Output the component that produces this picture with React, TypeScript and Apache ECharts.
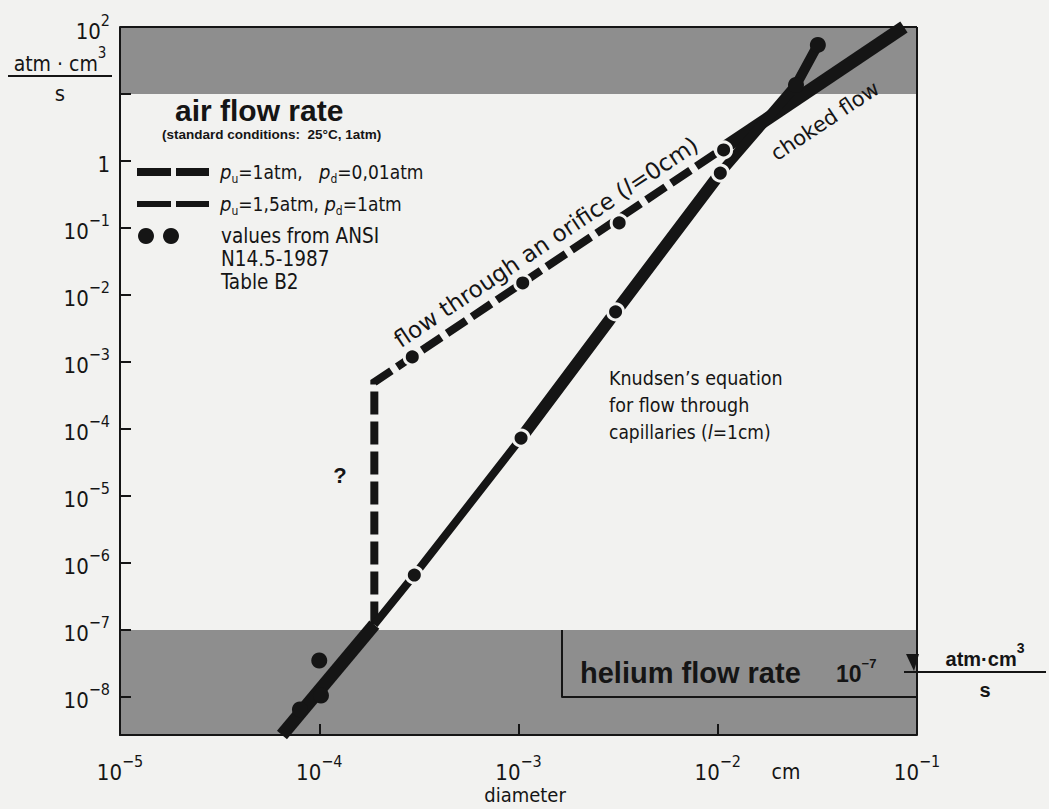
import React, { useEffect, useRef } from 'react';
import * as echarts from 'echarts';

// ---------- data (real values, plotted on log10 value axes) ----------
const xTickExponents = [-5, -4, -3, -2, -1];
const yTickExponents = [-8, -7, -6, -5, -4, -3, -2, -1, 0, 1, 2];
const xMinValue = 1e-5;
const xMaxValue = 1e-1;
const yMinValue = 2.7e-9;
const yMaxValue = 100;

// flow through an orifice (l = 0 cm), pu = 1 atm, pd = 0.01 atm
const orificeD = [1.89e-4, 1.89e-4, 1.05e-2];
const orificeQ = [1.2e-7, 5.0e-4, 1.5];
// choked flow continuation
const chokedD = [1.05e-2, 8.6e-2];
const chokedQ = [1.5, 100];
// Knudsen's equation (l = 1 cm)
const knudsenLowD = [6.5e-5, 1.89e-4];
const knudsenLowQ = [2.7e-9, 1.2e-7];
const knudsenMidD = [1.89e-4, 3.0e-4, 1.03e-3];
const knudsenMidQ = [1.2e-7, 6.6e-7, 7.3e-5];
const knudsenUpD = [1.03e-3, 3.07e-3, 1.03e-2];
const knudsenUpQ = [7.3e-5, 5.6e-3, 0.66];
const knudsenTopD = [1.03e-2, 2.47e-2, 3.18e-2];
const knudsenTopQ = [0.66, 13.6, 54];
// values from ANSI N14.5-1987 Table B2
const ansiD = [2.93e-4, 1.05e-3, 3.2e-3, 1.07e-2, 3.0e-4, 1.03e-3, 3.07e-3, 1.03e-2, 2.47e-2, 3.18e-2, 1.0e-4, 1.02e-4, 8.0e-5];
const ansiQ = [1.19e-3, 1.51e-2, 0.119, 1.46, 6.6e-7, 7.3e-5, 5.6e-3, 0.66, 13.6, 54, 3.5e-8, 1.05e-8, 6.5e-9];
// shaded ranges
const airBandQ = [10, 100];
const heliumBandQ = [yMinValue, 1e-7];
const heliumBoxD = [1.64e-3, 1e-1];
const heliumBoxQ = [1e-8, 1e-7];

// ---------- helpers ----------
const lg = (v: number) => Math.log10(v);
const pts = (d: number[], q: number[]) => d.map((x, i) => [lg(x), lg(q[i])]);

const DIN = '"DejaVu Sans Condensed", "DejaVu Sans", sans-serif';
const HELV = '"Liberation Sans", Arial, sans-serif';
const INK = '#151515';
const BAND = '#8e8e8e';
const PAPER = '#f2f2f0';

const expLabel = (e: number) => `{b|10}{s|${e < 0 ? '−' + Math.abs(e) : e}}`;

const W = 1049;
const H = 809;

export default function App() {
  const ref = useRef<HTMLDivElement>(null);
  useEffect(() => {
    document.body.style.margin = '0';
    const chart = echarts.init(ref.current!, undefined, { renderer: 'svg' });

    const gl = 120, gt = 27, gr = 917, gb = 735;
    const xMinL = lg(xMinValue), xMaxL = lg(xMaxValue);
    const yMinL = lg(yMinValue), yMaxL = lg(yMaxValue);
    // tick length (~11 px) expressed in axis units
    const tickLenX = (11 / (gr - gl)) * (xMaxL - xMinL);
    const tickLenY = (11 / (gb - gt)) * (yMaxL - yMinL);

    const lineSeries = (name: string, data: number[][], width: number, dash: any) => ({
      name,
      type: 'line',
      data,
      symbol: 'none',
      z: 3,
      lineStyle: { color: INK, width, type: dash, cap: 'butt', join: 'miter', opacity: 1 },
    });

    const ansiData = ansiD.map((d, i) => {
      const ly = lg(ansiQ[i]);
      const inBand = ly > 1 || ly < -7;
      return {
        value: [lg(d), ly],
        itemStyle: inBand
          ? { color: INK, borderWidth: 0, opacity: 1 }
          : { color: INK, borderColor: PAPER, borderWidth: 3, opacity: 1 },
      };
    });

    const richAxis = {
      b: { fontFamily: DIN, fontSize: 22, color: INK, lineHeight: 30, verticalAlign: 'bottom' },
      s: { fontFamily: DIN, fontSize: 16, color: INK, lineHeight: 16, verticalAlign: 'top' },
    };

    const legendRich = {
      t: { fontFamily: DIN, fontSize: 19, color: INK, lineHeight: 26, verticalAlign: 'middle' },
      i: { fontFamily: DIN, fontSize: 20, fontStyle: 'italic', color: INK, lineHeight: 26, verticalAlign: 'middle' },
      sub: { fontFamily: DIN, fontSize: 12, color: INK, lineHeight: 10, verticalAlign: 'bottom' },
    };

    const txt = (text: string, x: number, y: number, o: any = {}) => ({
      type: 'text',
      x,
      y,
      rotation: o.rotation || 0,
      z: 50,
      style: {
        text,
        x: 0,
        y: 0,
        fill: o.fill || INK,
        fontFamily: o.fontFamily || DIN,
        fontSize: o.fontSize || 19,
        fontWeight: o.fontWeight || 'normal',
        fontStyle: o.fontStyle || 'normal',
        align: o.align || 'left',
        textAlign: o.align || 'left',
        verticalAlign: 'middle',
        textVerticalAlign: 'middle',
        rich: o.rich,
      },
    });

    const gline = (x1: number, y1: number, x2: number, y2: number, w: number, dash?: number[]) => ({
      type: 'line',
      z: 50,
      shape: { x1, y1, x2, y2 },
      style: { stroke: INK, lineWidth: w, lineDash: dash, lineCap: 'butt' },
    });

    const angle = Math.atan2(207, 311);
    const rotFont = '"DejaVu Sans", sans-serif';

    const unitRich = (font: string, weight: string, size: number) => ({
      b: { fontFamily: font, fontWeight: weight, fontSize: size, color: INK, lineHeight: size + 8, verticalAlign: 'bottom' },
      s: { fontFamily: font, fontWeight: weight, fontSize: Math.round(size * 0.7), color: INK, lineHeight: 14, verticalAlign: 'top' },
    });

    const tickMarks = [
      ...yTickExponents
        .filter((e) => e > yMinL && e < yMaxL)
        .map((e) => [{ coord: [xMinL, e] }, { coord: [xMinL + tickLenX, e] }]),
      ...xTickExponents
        .filter((e) => e > xMinL && e < xMaxL)
        .map((e) => [{ coord: [e, yMinL] }, { coord: [e, yMinL + tickLenY] }]),
    ];

    const option: any = {
      animation: false,
      backgroundColor: PAPER,
      grid: { left: gl, top: gt, width: gr - gl, height: gb - gt, show: false },
      xAxis: {
        type: 'value',
        min: xMinL,
        max: xMaxL,
        interval: 1,
        z: 10,
        axisLine: { show: true, onZero: false, lineStyle: { color: INK, width: 2 } },
        splitLine: { show: false },
        axisTick: { show: true, inside: true, length: 11, lineStyle: { color: INK, width: 2 } },
        axisLabel: {
          margin: 18,
          color: INK,
          formatter: (v: number) => {
            const e = Math.round(v);
            if (Math.abs(v - e) > 1e-6 || !xTickExponents.includes(e)) return '';
            return expLabel(e);
          },
          rich: richAxis,
        },
      },
      yAxis: {
        type: 'value',
        min: yMinL,
        max: yMaxL,
        splitNumber: 10,
        z: 10,
        axisLine: { show: true, onZero: false, lineStyle: { color: INK, width: 2 } },
        splitLine: { show: false },
        axisTick: { show: true, inside: true, length: 11, lineStyle: { color: INK, width: 2 } },
        axisLabel: {
          margin: 10,
          color: INK,
          showMinLabel: false,
          formatter: (v: number) => {
            const e = Math.round(v);
            if (Math.abs(v - e) > 1e-6 || !yTickExponents.includes(e)) return '';
            if (e === 0) return '{b|1}';
            if (e === 1) return '';
            return expLabel(e);
          },
          rich: richAxis,
        },
      },
      series: [
        {
          name: 'bands',
          type: 'line',
          data: [],
          z: 1,
          silent: true,
          markArea: {
            silent: true,
            itemStyle: { color: BAND, opacity: 1 },
            data: [
              [{ yAxis: lg(airBandQ[0]) }, { yAxis: lg(airBandQ[1]) }],
              [{ yAxis: lg(heliumBandQ[0]) }, { yAxis: lg(heliumBandQ[1]) }],
            ],
          },
          markLine: {
            silent: true,
            symbol: ['none', 'none'],
            label: { show: false },
            lineStyle: { color: INK, width: 2, type: 'solid', opacity: 1 },
            data: [
              [{ coord: [lg(heliumBoxD[0]), lg(heliumBoxQ[1])] }, { coord: [lg(heliumBoxD[0]), lg(heliumBoxQ[0])] }],
              [{ coord: [lg(heliumBoxD[0]), lg(heliumBoxQ[0])] }, { coord: [lg(heliumBoxD[1]), lg(heliumBoxQ[0])] }],
            ],
          },
        },
        {
          name: 'axis ticks',
          type: 'line',
          data: [],
          z: 20,
          silent: true,
          markLine: {
            silent: true,
            symbol: ['none', 'none'],
            label: { show: false },
            lineStyle: { color: INK, width: 2, type: 'solid', opacity: 1 },
            data: tickMarks,
          },
        },
        lineSeries('pu=1atm, pd=0,01atm (orifice)', pts(orificeD, orificeQ), 8, [23, 7]),
        lineSeries('choked flow', pts(chokedD, chokedQ), 13, 'solid'),
        lineSeries('Knudsen low', pts(knudsenLowD, knudsenLowQ), 13, 'solid'),
        lineSeries('Knudsen mid', pts(knudsenMidD, knudsenMidQ), 8, 'solid'),
        lineSeries('Knudsen up', pts(knudsenUpD, knudsenUpQ), 12, 'solid'),
        lineSeries('Knudsen top', pts(knudsenTopD, knudsenTopQ), 10, 'solid'),
        {
          name: 'values from ANSI N14.5-1987 Table B2',
          type: 'scatter',
          symbol: 'circle',
          symbolSize: 16,
          z: 4,
          itemStyle: { opacity: 1 },
          data: ansiData,
        },
      ],
      graphic: [
        // frame (top and right sides; left and bottom are the axis lines)
        gline(gl, gt, gr, gt, 2),
        gline(gr, gt, gr, gb, 2),
        // y unit
        txt('{b|atm · cm}{s|3}', 60, 60, { align: 'center', rich: unitRich(DIN, 'normal', 21) }),
        gline(8, 76, 112, 76, 2),
        txt('s', 60, 93, { fontSize: 22, align: 'center' }),
        // x unit + title
        txt('cm', 786, 772, { fontSize: 21, align: 'center' }),
        txt('diameter', 525, 795, { fontSize: 20, align: 'center' }),
        // legend block
        txt('air flow rate', 175, 110, { fontFamily: HELV, fontSize: 30, fontWeight: 'bold' }),
        txt('(standard conditions:  25°C, 1atm)', 162, 134, { fontFamily: HELV, fontSize: 13.5, fontWeight: 'bold' }),
        gline(137, 172, 209, 172, 8, [34, 5]),
        txt('{i|p}{sub|u}{t|=1atm,   }{i|p}{sub|d}{t|=0,01atm}', 220, 172, { rich: legendRich }),
        gline(137, 204, 209, 204, 6, [34, 5]),
        txt('{i|p}{sub|u}{t|=1,5atm, }{i|p}{sub|d}{t|=1atm}', 220, 204, { rich: legendRich }),
        { type: 'circle', z: 50, shape: { cx: 146, cy: 236, r: 8 }, style: { fill: INK } },
        { type: 'circle', z: 50, shape: { cx: 171, cy: 236, r: 8 }, style: { fill: INK } },
        txt('values from ANSI', 221, 236, { fontSize: 20.5 }),
        txt('N14.5-1987', 221, 259, { fontSize: 20.5 }),
        txt('Table B2', 221, 282, { fontSize: 20.5 }),
        // annotations in plot
        txt('?', 340, 475, { fontFamily: HELV, fontSize: 22, fontWeight: 'bold', align: 'center' }),
        txt('Knudsen’s equation', 609, 378, { fontSize: 19.5 }),
        txt('for flow through', 609, 405, { fontSize: 19.5 }),
        txt('{t|capillaries (}{i|l}{t|=1cm)}', 609, 432, { rich: legendRich }),
        txt('{t|flow through an orifice (}{i|l}{t|=0cm)}', 546, 242, {
          rotation: angle,
          align: 'center',
          rich: {
            t: { fontFamily: rotFont, fontSize: 23, color: INK },
            i: { fontFamily: rotFont, fontSize: 23, fontStyle: 'italic', color: INK },
          },
        }),
        txt('choked flow', 825, 121, { rotation: angle, align: 'center', fontFamily: rotFont, fontSize: 21 }),
        // helium band texts
        txt('helium flow rate', 580, 673, { fontFamily: HELV, fontSize: 29, fontWeight: 'bold' }),
        txt('{b|10}{s|−7}', 836, 671, {
          rich: {
            b: { fontFamily: HELV, fontSize: 23, fontWeight: 'bold', color: INK, lineHeight: 28, verticalAlign: 'bottom' },
            s: { fontFamily: HELV, fontSize: 13, fontWeight: 'bold', color: INK, lineHeight: 14, verticalAlign: 'top' },
          },
        }),
        { type: 'polygon', z: 55, shape: { points: [[906, 654], [919, 654], [914, 671]] }, style: { fill: INK } },
        gline(904, 672, 1046, 672, 2),
        txt('{b|atm·cm}{s|3}', 985, 655, { align: 'center', rich: unitRich(HELV, 'bold', 20) }),
        txt('s', 985, 690, { fontFamily: HELV, fontSize: 20, fontWeight: 'bold', align: 'center' }),
      ],
    };

    chart.setOption(option);
    return () => chart.dispose();
  }, []);

  return <div ref={ref} style={{ width: W, height: H }} />;
}
